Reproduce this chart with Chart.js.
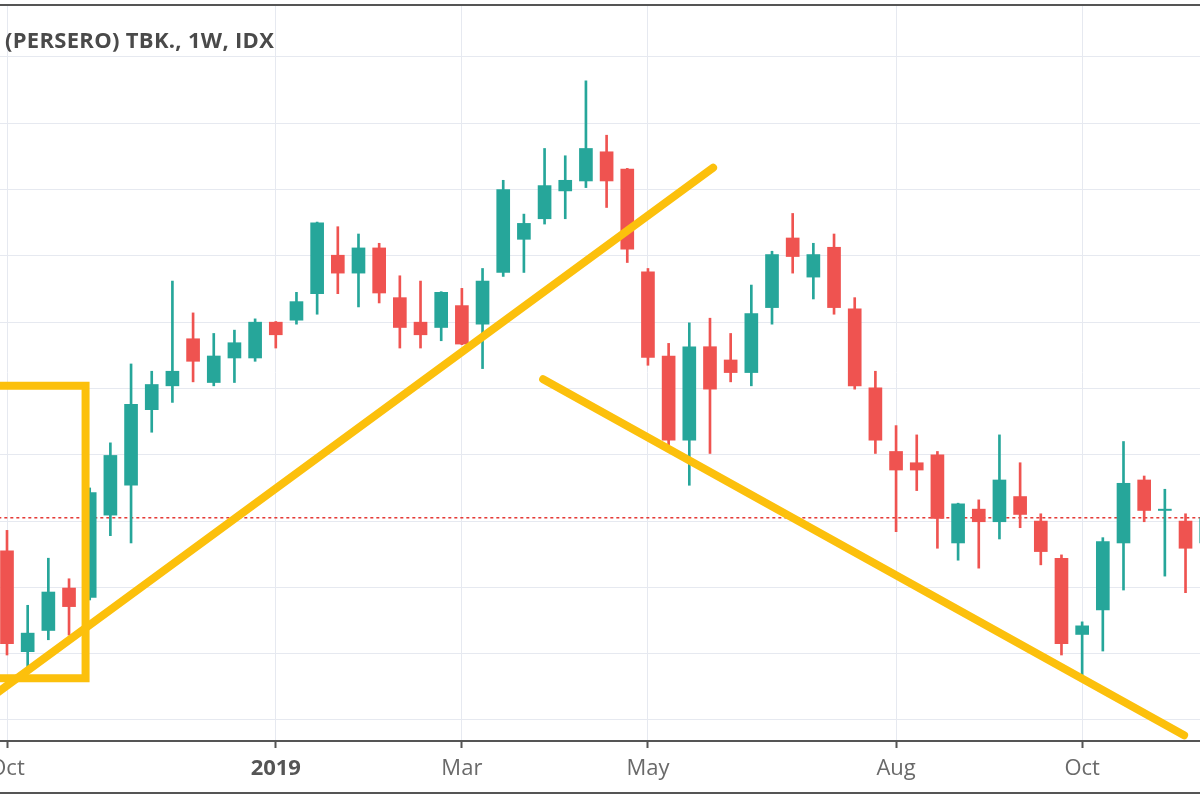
<!DOCTYPE html>
<html lang="en">
<head>
    <meta charset="UTF-8">
    <title>(PERSERO) TBK., 1W, IDX</title>
    <script src="https://cdn.jsdelivr.net/npm/chart.js"></script>
    <style>
        body {
            margin: 0;
            background: #ffffff;
        }

        .wrap {
            position: relative;
            width: 1200px;
            height: 800px;
        }

        /* symbol line, top left like on TradingView */
        .symbol {
            position: absolute;
            left: 5px;
            top: 24px;
            font: 700 22px "Open Sans", sans-serif;
            letter-spacing: 0.3px;
            color: #4a4a4a;
            white-space: nowrap;
        }
    </style>
</head>
<body>

<div class="wrap">
    <canvas id="chart" width="1200" height="800"></canvas>
    <div class="symbol">(PERSERO) TBK., 1W, IDX</div>
</div>

<script>
    // weekly candles, index 0 = first week of Oct 2018
    const opens  = [3255, 3103, 3135, 3199, 3185, 3309, 3354, 3468, 3504, 3575,
                    3509, 3546, 3546, 3600, 3603, 3643, 3701, 3674, 3712, 3637,
                    3600, 3592, 3625, 3597, 3675, 3725, 3756, 3798, 3813, 3857,
                    3831, 3676, 3549, 3422, 3563, 3543, 3524, 3622, 3727, 3668,
                    3713, 3620, 3501, 3405, 3388, 3400, 3267, 3318, 3299, 3337,
                    3300, 3244, 3129, 3166, 3267, 3362, 3316, 3300, 3267];
    const highs  = [3286, 3173, 3244, 3213, 3350, 3418, 3537, 3526, 3662, 3614,
                    3583, 3588, 3605, 3601, 3645, 3751, 3744, 3733, 3719, 3670,
                    3662, 3646, 3651, 3681, 3814, 3763, 3862, 3851, 3964, 3882,
                    3832, 3681, 3568, 3599, 3606, 3583, 3656, 3707, 3764, 3719,
                    3733, 3637, 3526, 3444, 3430, 3405, 3327, 3332, 3430, 3388,
                    3311, 3249, 3148, 3275, 3420, 3368, 3348, 3311, 3324];
    const lows   = [3098, 3075, 3121, 3128, 3181, 3278, 3267, 3434, 3479, 3510,
                    3504, 3509, 3541, 3561, 3597, 3612, 3643, 3623, 3629, 3561,
                    3561, 3572, 3566, 3530, 3669, 3675, 3748, 3756, 3803, 3773,
                    3690, 3535, 3415, 3354, 3402, 3510, 3504, 3597, 3674, 3635,
                    3612, 3499, 3402, 3284, 3346, 3259, 3241, 3229, 3273, 3290,
                    3234, 3098, 3065, 3104, 3196, 3299, 3217, 3192, 3241];
    const closes = [3115, 3131, 3193, 3171, 3343, 3399, 3476, 3506, 3526, 3541,
                    3549, 3569, 3600, 3581, 3631, 3750, 3674, 3712, 3644, 3592,
                    3581, 3645, 3567, 3662, 3800, 3749, 3806, 3814, 3862, 3813,
                    3710, 3547, 3422, 3563, 3499, 3524, 3613, 3702, 3699, 3702,
                    3622, 3504, 3422, 3377, 3377, 3304, 3326, 3299, 3362, 3310,
                    3254, 3115, 3142, 3269, 3357, 3316, 3318, 3259, 3305];

    const tickWeeks  = [0, 13, 22, 31, 43, 52];
    const tickLabels = ['Oct', '2019', 'Mar', 'May', 'Aug', 'Oct'];
    const priceGrid  = [3000, 3100, 3200, 3300, 3400, 3500, 3600, 3700, 3800, 3900, 4000];
    const lastPrice  = 3305;

    // hand drawn yellow shapes (week, price)
    const boxWeeks   = [-1, 3.8, 3.8, -1];
    const boxPrices  = [3504, 3504, 3063, 3063];
    const upWeeks    = [-1, 34.15];
    const upPrices   = [3029, 3833];
    const downWeeks  = [25.93, 56.93];
    const downPrices = [3514, 2977];

    const UP = '#26a69a';
    const DOWN = '#ef5350';
    const YELLOW = '#fcc00c';
    const GRID = '#e6e9f0';

    const candleColor = ctx => closes[ctx.dataIndex] >= opens[ctx.dataIndex] ? UP : DOWN;
    const toPoints = (xs, ys) => xs.map((x, i) => ({ x: x, y: ys[i] }));

    // thin frame lines above and below the chart
    const framePlugin = {
        id: 'frame',
        afterDraw(chart) {
            const ctx = chart.ctx;
            ctx.save();
            ctx.strokeStyle = '#555';
            ctx.lineWidth = 2;
            ctx.beginPath();
            ctx.moveTo(0, 5);
            ctx.lineTo(chart.width, 5);
            ctx.moveTo(0, 793);
            ctx.lineTo(chart.width, 793);
            ctx.stroke();
            ctx.restore();
        }
    };

    new Chart(document.getElementById('chart'), {
        type: 'bar',
        data: {
            datasets: [
                {
                    type: 'line',
                    data: toPoints(boxWeeks, boxPrices),
                    borderColor: YELLOW,
                    borderWidth: 8,
                    borderJoinStyle: 'miter',
                    pointRadius: 0,
                    order: 0
                },
                {
                    type: 'line',
                    data: toPoints(upWeeks, upPrices),
                    borderColor: YELLOW,
                    borderWidth: 8,
                    borderCapStyle: 'round',
                    pointRadius: 0,
                    order: 0
                },
                {
                    type: 'line',
                    data: toPoints(downWeeks, downPrices),
                    borderColor: YELLOW,
                    borderWidth: 8,
                    borderCapStyle: 'round',
                    pointRadius: 0,
                    order: 0
                },
                {
                    // candle bodies
                    data: opens.map((o, i) => ({ x: i, y: [o, closes[i]] })),
                    backgroundColor: candleColor,
                    barThickness: 13,
                    grouped: false,
                    order: 1
                },
                {
                    // wicks
                    data: lows.map((l, i) => ({ x: i, y: [l, highs[i]] })),
                    backgroundColor: candleColor,
                    barThickness: 2,
                    grouped: false,
                    order: 2
                },
                {
                    // last price line
                    type: 'line',
                    data: [{ x: -1, y: lastPrice }, { x: 60, y: lastPrice }],
                    borderColor: '#e53935',
                    borderWidth: 1.5,
                    borderDash: [3, 3],
                    pointRadius: 0,
                    order: 3
                }
            ]
        },
        options: {
            responsive: false,
            animation: false,
            layout: { padding: { top: 5, left: 0, right: 0, bottom: 0 } },
            plugins: {
                legend: { display: false },
                tooltip: { enabled: false }
            },
            scales: {
                x: {
                    type: 'linear',
                    min: -0.3386,
                    max: 57.70,
                    offset: false,
                    grid: {
                        offset: false,
                        color: GRID,
                        drawTicks: true,
                        tickLength: 7,
                        tickColor: '#555',
                        tickWidth: 2
                    },
                    border: { display: true, color: '#555', width: 2 },
                    afterBuildTicks: s => {
                        s.ticks = tickWeeks.map(v => ({ value: v }));
                    },
                    afterFit: s => {
                        s.height = 59;
                        s.paddingLeft = 0;
                        s.paddingRight = 0;
                    },
                    ticks: {
                        autoSkip: false,
                        maxRotation: 0,
                        padding: 8,
                        callback: v => tickLabels[tickWeeks.indexOf(v)],
                        color: c => c.tick && c.tick.value === 13 ? '#555' : '#6a6a6a',
                        font: c => ({
                            family: '"Open Sans", sans-serif',
                            size: 22,
                            weight: c.tick && c.tick.value === 13 ? '700' : '400'
                        })
                    }
                },
                y: {
                    min: 2968.3,
                    max: 4078.4,
                    grid: { color: GRID, drawTicks: false },
                    border: { display: false },
                    ticks: { display: false },
                    afterBuildTicks: s => {
                        s.ticks = priceGrid.map(v => ({ value: v }));
                    },
                    afterFit: s => {
                        s.width = 0;
                    }
                }
            }
        },
        plugins: [framePlugin]
    });
</script>

</body>
</html>
